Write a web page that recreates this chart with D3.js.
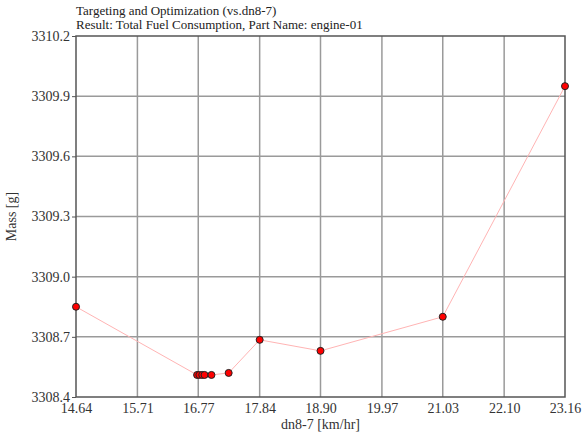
<!DOCTYPE html>
<html>
<head>
<meta charset="utf-8">
<script src="https://cdn.jsdelivr.net/npm/d3@7/dist/d3.min.js"></script>
<style>
  body { margin: 0; background: #fff; }
  svg text { font-family: "Liberation Serif", "Times New Roman", serif; fill: #333; }
</style>
</head>
<body>
<div id="chart"></div>
<script>
var titleLines = ['Targeting and Optimization (vs.dn8-7)',
  'Result: Total Fuel Consumption, Part Name: engine-01'];
var xLabel = 'dn8-7 [km/hr]';
var yLabel = 'Mass [g]';

// tick labels as printed on the axes
var xTicks = [14.64, 15.71, 16.77, 17.84, 18.90, 19.97, 21.03, 22.10, 23.16];
var yTicks = [3308.4, 3308.7, 3309.0, 3309.3, 3309.6, 3309.9, 3310.2];

// measured points (dn8-7, mass)
var speed = [14.64, 16.75, 16.79, 16.84, 16.88, 17.00, 17.30, 17.84, 18.90, 21.03, 23.16];
var mass  = [3308.85, 3308.51, 3308.51, 3308.51, 3308.51, 3308.51, 3308.52, 3308.685, 3308.63, 3308.80, 3309.95];

var W = 582, H = 434;
var margins = {left: 76, right: 17, top: 36, bottom: 37},
  w = W - margins.left - margins.right,
  h = H - margins.top - margins.bottom;

var svg = d3.select('#chart')
  .append('svg')
  .attr('width', W)
  .attr('height', H);

var g = svg.append('g')
  .attr('transform', 'translate(' + margins.left + ',' + margins.top + ')');

var xScale = d3.scaleLinear().domain([xTicks[0], xTicks[xTicks.length - 1]]).range([0, w]);
var yScale = d3.scaleLinear().domain([yTicks[0], yTicks[yTicks.length - 1]]).range([h, 0]);

// grid
g.append('g')
  .selectAll('line')
  .data(xTicks.slice(1, -1))
  .enter()
  .append('line')
  .attr('x1', function(d) { return xScale(d); })
  .attr('x2', function(d) { return xScale(d); })
  .attr('y1', 0)
  .attr('y2', h)
  .style('stroke', '#9a9a9a')
  .style('stroke-width', 1.5);

g.append('g')
  .selectAll('line')
  .data(yTicks.slice(1, -1))
  .enter()
  .append('line')
  .attr('x1', 0)
  .attr('x2', w)
  .attr('y1', function(d) { return yScale(d); })
  .attr('y2', function(d) { return yScale(d); })
  .style('stroke', '#9a9a9a')
  .style('stroke-width', 1.5);

// frame
g.append('rect')
  .attr('width', w)
  .attr('height', h)
  .style('fill', 'none')
  .style('stroke', '#555')
  .style('stroke-width', 1.5);

// axes
var xAxis = d3.axisBottom(xScale)
  .tickValues(xTicks)
  .tickFormat(d3.format('.2f'))
  .tickSize(0)
  .tickPadding(6);
var yAxis = d3.axisLeft(yScale)
  .tickValues(yTicks)
  .tickFormat(d3.format('.1f'))
  .tickSize(4)
  .tickPadding(2);

var gx = g.append('g')
  .attr('transform', 'translate(0,' + h + ')')
  .call(xAxis);
var gy = g.append('g').call(yAxis);

[gx, gy].forEach(function(ax) {
  ax.select('.domain').remove();
  ax.selectAll('.tick line').style('stroke', '#555');
  ax.selectAll('.tick text')
    .style('font-family', '"Liberation Serif", "Times New Roman", serif')
    .style('font-size', '14px')
    .style('fill', '#333');
});

// axis titles
svg.append('text')
  .text(xLabel)
  .attr('x', margins.left + w / 2)
  .attr('y', H - 5)
  .attr('text-anchor', 'middle')
  .style('font-size', '14px');

svg.append('text')
  .text(yLabel)
  .attr('transform', 'translate(16,' + (margins.top + h / 2) + ') rotate(-90)')
  .attr('text-anchor', 'middle')
  .style('font-size', '14px');

// title
svg.append('g')
  .selectAll('text')
  .data(titleLines)
  .enter()
  .append('text')
  .text(function(d) { return d; })
  .attr('x', margins.left)
  .attr('y', function(d, i) { return 15 + i * 14; })
  .style('font-size', '13px')
  .style('fill', '#222');

// data line + points
var pts = speed.map(function(s, i) { return {x: s, y: mass[i]}; });

var lineFn = d3.line()
  .x(function(d) { return xScale(d.x); })
  .y(function(d) { return yScale(d.y); });

g.append('path')
  .datum(pts)
  .attr('d', lineFn)
  .style('fill', 'none')
  .style('stroke', '#ffb4b4')
  .style('stroke-width', 1);

g.append('g')
  .selectAll('circle')
  .data(pts)
  .enter()
  .append('circle')
  .attr('cx', function(d) { return xScale(d.x); })
  .attr('cy', function(d) { return yScale(d.y); })
  .attr('r', 3.5)
  .style('fill', '#ff0000')
  .style('stroke', '#222')
  .style('stroke-width', 1);
</script>
</body>
</html>
